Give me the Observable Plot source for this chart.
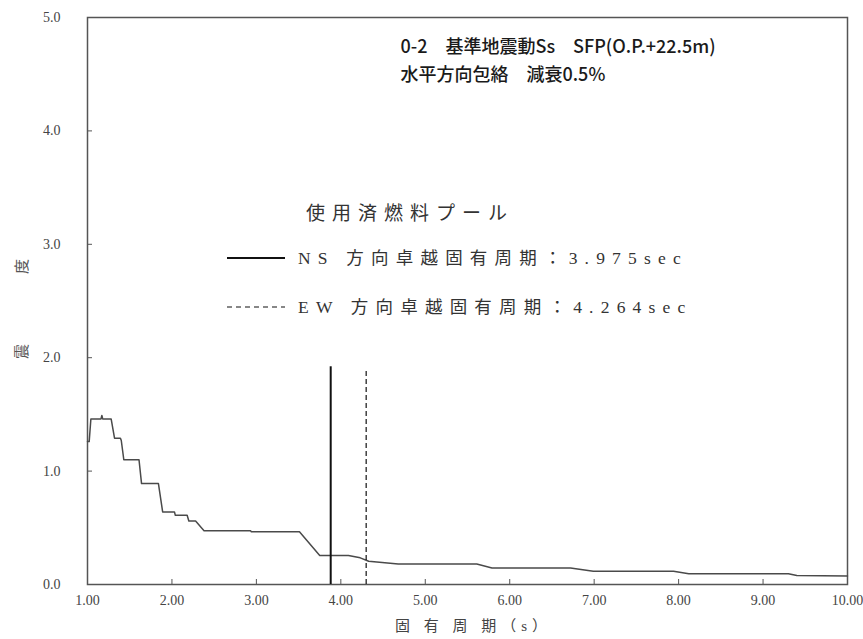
<!DOCTYPE html>
<html><head><meta charset="utf-8">
<script src="https://cdn.jsdelivr.net/npm/d3@7"></script>
<script src="https://cdn.jsdelivr.net/npm/@observablehq/plot@0.6"></script>
<style>body{margin:0;background:#fff;} #chart{width:863px;height:639px;}</style>
</head><body><div id="chart"></div>
<script>
// Envelope response curve
const periods   = [1.00, 1.02, 1.04, 1.16, 1.17, 1.18, 1.28, 1.32, 1.39, 1.40, 1.43, 1.61, 1.64, 1.84, 1.89, 2.03, 2.04, 2.18, 2.20, 2.28, 2.38, 2.93, 2.94, 3.51, 3.75, 4.09, 4.23, 4.33, 4.68, 5.61, 5.79, 6.72, 6.99, 7.94, 8.12, 9.30, 9.40, 10.00];
const intensity = [1.26, 1.26, 1.46, 1.46, 1.49, 1.46, 1.46, 1.29, 1.29, 1.27, 1.10, 1.10, 0.89, 0.89, 0.64, 0.64, 0.61, 0.61, 0.56, 0.56, 0.475, 0.475, 0.465, 0.465, 0.256, 0.256, 0.235, 0.205, 0.18, 0.18, 0.145, 0.145, 0.117, 0.117, 0.094, 0.094, 0.079, 0.075];
// Dominant-period marker lines as drawn (NS solid, EW dashed)
const markerPeriods = [3.88, 4.30];
const markerTops    = [1.92, 1.90];
const xTicks = [1, 2, 3, 4, 5, 6, 7, 8, 9, 10];
const yTicks = [0, 1, 2, 3, 4, 5];
const titleLines = ["0-2　基準地震動Ss　SFP(O.P.+22.5m)", "水平方向包絡　減衰0.5%"];
const legendTitle = "使用済燃料プール";
const legendLabels = ["NS 方向卓越固有周期：3.975sec", "EW 方向卓越固有周期：4.264sec"];
const xLabel = "固 有 周 期（s）";
const yLabelChars = ["震", "度"];

const curve = periods.map((p, i) => ({period: p, value: intensity[i]}));
const markers = markerPeriods.map((p, i) => ({period: p, top: markerTops[i]}));

const serif = "'Liberation Serif', 'DejaVu Serif', 'Noto Sans CJK JP', serif";
const gothic = "'Noto Sans CJK JP', sans-serif";
const plot = Plot.plot({
  width: 863, height: 639,
  marginLeft: 87, marginRight: 16, marginTop: 17, marginBottom: 55,
  style: {fontFamily: serif, fontSize: "14px", color: "#333", background: "#fff"},
  x: {domain: [1, 10], label: null},
  y: {domain: [0, 5], label: null},
  marks: [
    Plot.axisX(xTicks, {tickSize: 0, tickPadding: 11, tickFormat: d => d.toFixed(2), label: null, fontSize: 14, fill: "#444"}),
    Plot.axisX(xTicks.slice(1, -1), {tickSize: -5, tickFormat: () => "", label: null, stroke: "#555"}),
    Plot.axisY(yTicks, {tickSize: 0, tickPadding: 27, tickFormat: d => d.toFixed(1), label: null, fontSize: 14, fill: "#444"}),
    Plot.axisY(yTicks.slice(1, -1), {tickSize: -5, tickFormat: () => "", label: null, stroke: "#555"}),
    Plot.frame({stroke: "#555", strokeWidth: 1.5}),
    Plot.line(curve, {x: "period", y: "value", stroke: "#4a4a4a", strokeWidth: 1.5}),
    Plot.ruleX([markers[0]], {x: "period", y1: 0, y2: "top", stroke: "#111", strokeWidth: 2}),
    Plot.ruleX([markers[1]], {x: "period", y1: 0, y2: "top", stroke: "#111", strokeWidth: 1.2, strokeDasharray: "5,3"}),
    Plot.text([titleLines[0]], {text: d => d, frameAnchor: "top-left", dx: 313, dy: 30, textAnchor: "start", lineAnchor: "middle", fontWeight: 500, fontSize: 18, fill: "#1a1a1a"}),
    Plot.text([titleLines[1]], {text: d => d, frameAnchor: "top-left", dx: 313, dy: 58, textAnchor: "start", lineAnchor: "middle", fontWeight: 500, fontSize: 18, fill: "#1a1a1a"}),
    Plot.text([yLabelChars[0]], {text: d => d, frameAnchor: "left", dx: -65, dy: 58, rotate: -90, fontSize: 15, fill: "#555"}),
    Plot.text([yLabelChars[1]], {text: d => d, frameAnchor: "left", dx: -65, dy: -27, rotate: -90, fontSize: 15, fill: "#555"}),
    Plot.text([xLabel], {text: d => d, frameAnchor: "bottom", dx: 6, dy: 46, fontSize: 15, fill: "#444"})
  ]
});
document.getElementById("chart").appendChild(plot);

const svg = d3.select(plot);
// All texts serif (Mincho-like) except the gothic title and the axis name
svg.selectAll("text").style("font-family", serif);
svg.selectAll("text").filter(function(){ return titleLines.includes(this.textContent) || yLabelChars.includes(this.textContent); })
  .style("font-family", gothic);
svg.selectAll("text").filter(function(){ return this.textContent === xLabel; })
  .attr("letter-spacing", 5);

// Legend block inside the frame
const g = svg.append("g").attr("fill", "#333").attr("text-anchor", "start");
g.append("text").attr("x", 306).attr("y", 213).attr("dy", "0.35em").style("font-family", serif)
  .attr("font-size", 19).attr("letter-spacing", 7).text(legendTitle);
legendLabels.forEach((lab, i) => {
  const y = 258 + i * 49;
  g.append("line").attr("x1", 227).attr("x2", 285).attr("y1", y).attr("y2", y)
    .attr("stroke", "#111").attr("stroke-width", i === 0 ? 2 : 1.2)
    .attr("stroke-dasharray", i === 0 ? null : "5,4");
  g.append("text").attr("x", 298).attr("y", y).attr("dy", "0.35em").style("font-family", serif)
    .attr("font-size", 17.5).attr("letter-spacing", 7.2).text(lab);
});
</script>
</body></html>
